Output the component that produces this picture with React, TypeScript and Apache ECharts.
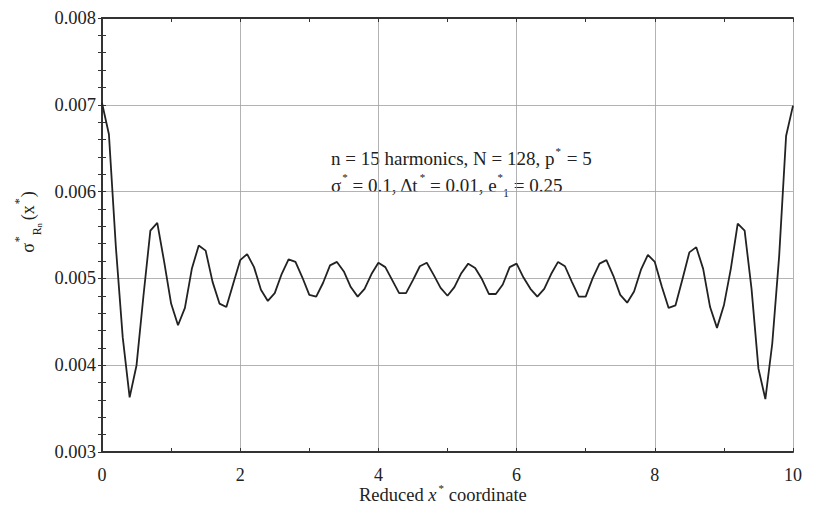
import React, { useEffect, useRef } from "react";
import * as echarts from "echarts";

const xValues: number[] = Array.from({ length: 101 }, (_, i) => Math.round(i * 10) / 100);
const sigmaValues: number[] = [
  0.00702, 0.00666, 0.00537, 0.00432, 0.00363, 0.00400, 0.00480, 0.00555, 0.00564, 0.00519,
  0.00471, 0.00446, 0.00466, 0.00511, 0.00538, 0.00532, 0.00496, 0.00471, 0.00467, 0.00494,
  0.00521, 0.00528, 0.00513, 0.00487, 0.00474, 0.00483, 0.00505, 0.00522, 0.00519, 0.00501,
  0.00481, 0.00479, 0.00495, 0.00515, 0.00519, 0.00508, 0.00490, 0.00479, 0.00488, 0.00505,
  0.00518, 0.00513, 0.00498, 0.00483, 0.00483, 0.00498, 0.00514, 0.00518, 0.00504, 0.00489,
  0.00480, 0.00490, 0.00506, 0.00517, 0.00512, 0.00499, 0.00482, 0.00482, 0.00493, 0.00513,
  0.00517, 0.00501, 0.00488, 0.00479, 0.00488, 0.00505, 0.00519, 0.00514, 0.00496, 0.00479,
  0.00479, 0.00500, 0.00517, 0.00521, 0.00503, 0.00481, 0.00472, 0.00485, 0.00510, 0.00527,
  0.00519, 0.00491, 0.00466, 0.00469, 0.00499, 0.00530, 0.00536, 0.00511, 0.00467, 0.00443,
  0.00469, 0.00511, 0.00563, 0.00555, 0.00488, 0.00396, 0.00361, 0.00425, 0.00526, 0.00664,
  0.00699,
];
const xTickLabels: string[] = ["0", "2", "4", "6", "8", "10"];
const yTickLabels: string[] = ["0.003", "0.004", "0.005", "0.006", "0.007", "0.008"];

const FONT = "'Liberation Serif', 'Times New Roman', serif";

export default function App() {
  const ref = useRef<HTMLDivElement>(null);
  useEffect(() => {
    if (!ref.current) return;
    const chart = echarts.init(ref.current, null, { renderer: "svg" });
    const data = xValues.map((x, i) => [x, sigmaValues[i]]);
    const axisLineStyle = { color: "#333", width: 2 };
    const tick = { show: true, inside: true, length: 4, lineStyle: { color: "#333", width: 1 } };
    const gridLine = { show: true, lineStyle: { color: "#a0a0a0", width: 0.8 } };
    chart.setOption({
      animation: false,
      backgroundColor: "#fff",
      grid: { left: 102, right: 21, top: 18, bottom: 64 },
      xAxis: [
        {
          type: "value",
          min: 0,
          max: 10,
          interval: 2,
          axisLine: { show: true, lineStyle: axisLineStyle },
          axisTick: tick,
          minorTick: { show: true, splitNumber: 2, length: 4, lineStyle: { color: "#333" } },
          splitLine: gridLine,
          axisLabel: {
            color: "#222",
            fontFamily: FONT,
            fontSize: 18,
            margin: 14,
            formatter: (v: number) => xTickLabels[Math.round(v / 2)] ?? String(v),
          },
        },
        {
          type: "value",
          position: "top",
          min: 0,
          max: 10,
          interval: 2,
          axisLine: { show: true, lineStyle: axisLineStyle },
          axisTick: tick,
          minorTick: { show: true, splitNumber: 2, length: 4, lineStyle: { color: "#333" } },
          splitLine: { show: false },
          axisLabel: { show: false },
        },
      ],
      yAxis: [
        {
          type: "value",
          min: 0.003,
          max: 0.008,
          interval: 0.001,
          axisLine: { show: true, lineStyle: axisLineStyle },
          axisTick: tick,
          minorTick: { show: true, splitNumber: 5, length: 4, lineStyle: { color: "#333" } },
          splitLine: gridLine,
          axisLabel: {
            color: "#222",
            fontFamily: FONT,
            fontSize: 18.5,
            margin: 6,
            formatter: (v: number) => yTickLabels[Math.round((v - 0.003) * 1000)] ?? v.toFixed(3),
          },
        },
        {
          type: "value",
          position: "right",
          min: 0.003,
          max: 0.008,
          interval: 0.001,
          axisLine: { show: true, lineStyle: axisLineStyle },
          axisTick: tick,
          minorTick: { show: true, splitNumber: 5, length: 4, lineStyle: { color: "#333" } },
          splitLine: { show: false },
          axisLabel: { show: false },
        },
      ],
      series: [
        {
          type: "line",
          data,
          xAxisIndex: 0,
          yAxisIndex: 0,
          showSymbol: false,
          symbol: "none",
          lineStyle: { color: "#222", width: 1.8 },
        },
      ],
      graphic: [
        {
          type: "text",
          left: 331,
          top: 145,
          style: {
            text: "{m|n = 15 harmonics, N = 128, p}{sup|*}{m| = 5}",
            fill: "#222",
            rich: {
              m: { fontFamily: FONT, fontSize: 19, lineHeight: 26, fill: "#222" },
              sup: { fontFamily: FONT, fontSize: 11, lineHeight: 12, verticalAlign: "top", fill: "#222", padding: [0, 1, 0, 1] },
            },
          },
        },
        {
          type: "text",
          left: 331,
          top: 171,
          style: {
            text: "{m|σ}{sup|*}{m| = 0.1, Δt}{sup|*}{m| = 0.01, e}{sup|*}{sub|1}{m| = 0.25}",
            fill: "#222",
            rich: {
              m: { fontFamily: FONT, fontSize: 19, lineHeight: 28, fill: "#222" },
              sup: { fontFamily: FONT, fontSize: 11, lineHeight: 12, verticalAlign: "top", fill: "#222", padding: [0, 0, 0, 1] },
              sub: { fontFamily: FONT, fontSize: 12, lineHeight: 12, verticalAlign: "bottom", fill: "#222", padding: [0, 0, 0, 0] },
            },
          },
        },
        {
          type: "text",
          x: 28,
          y: 222,
          rotation: Math.PI / 2,
          style: {
            text: "{m|σ}{sup|*}{sub|R}{subsub|n}{m|(x}{sup|*}{m|)}",
            align: "center",
            verticalAlign: "middle",
            fill: "#222",
            rich: {
              m: { fontFamily: FONT, fontSize: 18, lineHeight: 30, fill: "#222" },
              sup: { fontFamily: FONT, fontSize: 12, lineHeight: 14, verticalAlign: "top", fill: "#222", padding: [0, 1, 0, 1] },
              sub: { fontFamily: FONT, fontSize: 12, lineHeight: 14, verticalAlign: "bottom", fill: "#222" },
              subsub: { fontFamily: FONT, fontSize: 8, lineHeight: 6, verticalAlign: "bottom", fill: "#222", padding: [0, 3, 0, 0] },
            },
          },
        },
        {
          type: "text",
          left: 359,
          top: 482,
          style: {
            text: "{m|Reduced }{i|x}{sup|*}{m| coordinate}",
            fill: "#222",
            rich: {
              m: { fontFamily: FONT, fontSize: 18.5, lineHeight: 26, fill: "#222" },
              i: { fontFamily: FONT, fontSize: 18.5, lineHeight: 26, fontStyle: "italic", fill: "#222" },
              sup: { fontFamily: FONT, fontSize: 11, lineHeight: 12, verticalAlign: "top", fill: "#222", padding: [0, 0, 0, 2] },
            },
          },
        },
      ],
    });
    return () => chart.dispose();
  }, []);
  return <div ref={ref} style={{ width: 814, height: 516, marginLeft: -8, marginTop: -8 }} />;
}
